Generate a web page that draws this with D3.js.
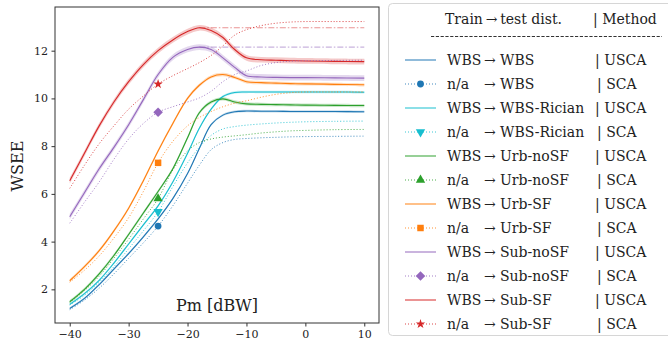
<!DOCTYPE html>
<html>
<head>
<meta charset="utf-8">
<script src="https://cdn.jsdelivr.net/npm/d3@7"></script>
<style>
  body { margin: 0; background: #fff; }
  text { font-family: "DejaVu Serif", serif; fill: #222; }
</style>
</head>
<body>
<div id="chart"></div>
<script>
// x grid (Pm in dBW)
const pm = [-40, -37.5, -35, -32.5, -30, -27.5, -25, -22.5, -20, -18, -16, -14, -12, -10, -7.5, -5, -2.5, 0, 5, 10];

// USCA curves (solid)
const uscaWBS    = [1.2, 1.62, 2.2, 2.85, 3.5, 4.2, 4.95, 5.8, 6.85, 7.9, 8.9, 9.3, 9.44, 9.47, 9.46, 9.46, 9.45, 9.45, 9.45, 9.44];
const uscaRician = [1.37, 1.82, 2.38, 3.1, 3.9, 4.7, 5.5, 6.5, 7.7, 8.75, 9.55, 10.08, 10.25, 10.27, 10.27, 10.27, 10.27, 10.27, 10.27, 10.26];
const uscaUrbNo  = [1.48, 2.0, 2.65, 3.42, 4.3, 5.2, 6.1, 7.05, 8.35, 9.4, 9.85, 9.98, 9.85, 9.77, 9.75, 9.74, 9.73, 9.72, 9.71, 9.7];
const uscaUrbSF  = [2.36, 2.95, 3.62, 4.45, 5.4, 6.55, 7.8, 8.95, 10.0, 10.55, 10.9, 11.0, 10.88, 10.7, 10.66, 10.64, 10.62, 10.61, 10.59, 10.57];
const uscaSubNo  = [5.04, 6.05, 7.05, 7.95, 8.9, 9.95, 11.0, 11.72, 12.05, 12.15, 12.05, 11.7, 11.3, 10.95, 10.9, 10.88, 10.87, 10.87, 10.86, 10.85];
const uscaSubSF  = [6.55, 7.7, 8.85, 9.85, 10.7, 11.42, 12.0, 12.45, 12.8, 12.96, 12.85, 12.55, 12.05, 11.7, 11.62, 11.6, 11.58, 11.57, 11.55, 11.54];

// SCA curves (dotted)
const scaWBS    = [1.15, 1.55, 2.05, 2.65, 3.3, 3.95, 4.65, 5.5, 6.45, 7.2, 7.85, 8.15, 8.28, 8.32, 8.35, 8.37, 8.39, 8.4, 8.41, 8.42];
const scaRician = [1.35, 1.75, 2.3, 2.95, 3.7, 4.45, 5.25, 6.3, 7.3, 7.95, 8.45, 8.72, 8.82, 8.88, 8.93, 8.97, 9.0, 9.02, 9.04, 9.05];
const scaUrbNo  = [1.45, 1.95, 2.55, 3.3, 4.1, 4.95, 5.8, 7.0, 7.8, 8.15, 8.3, 8.38, 8.43, 8.48, 8.55, 8.6, 8.64, 8.66, 8.69, 8.7];
const scaUrbSF  = [2.3, 2.8, 3.4, 4.15, 5.0, 6.1, 7.3, 8.2, 8.85, 9.2, 9.45, 9.65, 9.8, 9.9, 10.05, 10.17, 10.24, 10.27, 10.27, 10.27];
const scaSubNo  = [4.77, 5.65, 6.5, 7.45, 8.3, 8.95, 9.42, 9.65, 9.85, 10.02, 10.3, 10.7, 11.0, 11.15, 11.38, 11.5, 11.56, 11.58, 11.59, 11.6];
const scaSubSF  = [6.23, 7.2, 8.1, 8.85, 9.55, 10.1, 10.6, 10.95, 11.25, 11.5, 11.8, 12.2, 12.65, 12.88, 13.05, 13.15, 13.2, 13.22, 13.22, 13.22];

// spread of the shaded band round each USCA curve
const uscaSpread = [0.05, 0.05, 0.07, 0.07, 0.12, 0.12];
// SCA marker position
const markerPm = -25;

const testDists = ["WBS", "WBS-Rician", "Urb-noSF", "Urb-SF", "Sub-noSF", "Sub-SF"];
const colors = ["#1f77b4", "#17becf", "#2ca02c", "#ff7f0e", "#9467bd", "#d62728"];
const markers = ["circle", "tridown", "triup", "square", "diamond", "star"];
// dash-dot line at the peak, only for these
const showPeak = [false, false, false, false, true, true];

const usca = [uscaWBS, uscaRician, uscaUrbNo, uscaUrbSF, uscaSubNo, uscaSubSF];
const sca = [scaWBS, scaRician, scaUrbNo, scaUrbSF, scaSubNo, scaSubSF];

const xTicks = [-40, -30, -20, -10, 0, 10];
const yTicks = [2, 4, 6, 8, 10, 12];

const W = 668, H = 339;
const plot = { left: 55, right: 379, top: 7, bottom: 323 };

const svg = d3.select("#chart").append("svg")
  .attr("width", W)
  .attr("height", H);

const x = d3.scaleLinear().domain([-42.5, 12.5]).range([plot.left, plot.right]);
const y = d3.scaleLinear().domain([0.59, 13.83]).range([plot.bottom, plot.top]);

const line = d3.line()
  .x((d, i) => x(pm[i]))
  .y(d => y(d))
  .curve(d3.curveCatmullRom.alpha(0.5));

// marker drawn at (cx, cy)
function addMarker(sel, type, color, cx, cy) {
  let d, rot = 0;
  if (type === "circle") d = d3.symbol(d3.symbolCircle, 36)();
  else if (type === "triup") d = d3.symbol(d3.symbolTriangle, 38)();
  else if (type === "tridown") { d = d3.symbol(d3.symbolTriangle, 38)(); rot = 180; }
  else if (type === "square") d = d3.symbol(d3.symbolSquare, 42)();
  else if (type === "diamond") { d = d3.symbol(d3.symbolSquare, 46)(); rot = 45; }
  else d = d3.symbol(d3.symbolStar, 28)();
  sel.append("path")
    .attr("d", d)
    .attr("transform", `translate(${cx},${cy}) rotate(${rot})`)
    .attr("fill", color);
}

const g = svg.append("g");

// bands + peak lines
usca.forEach((vals, k) => {
  const band = d3.area()
    .x((d, i) => x(pm[i]))
    .y0(d => y(d - uscaSpread[k]))
    .y1(d => y(d + uscaSpread[k]))
    .curve(d3.curveCatmullRom.alpha(0.5));
  g.append("path")
    .attr("d", band(vals))
    .attr("fill", colors[k])
    .attr("opacity", 0.25);

  if (showPeak[k]) {
    const iMax = d3.maxIndex(vals);
    g.append("line")
      .attr("x1", x(pm[iMax])).attr("x2", x(pm[pm.length - 1]))
      .attr("y1", y(vals[iMax])).attr("y2", y(vals[iMax]))
      .attr("stroke", colors[k])
      .attr("stroke-opacity", 0.5)
      .attr("stroke-width", 1.2)
      .attr("stroke-dasharray", "6,2,1.5,2");
  }
});

usca.forEach((vals, k) => {
  g.append("path")
    .attr("d", line(vals))
    .attr("fill", "none")
    .attr("stroke", colors[k])
    .attr("stroke-width", 1.1);
});

// SCA dotted lines + single marker
sca.forEach((vals, k) => {
  g.append("path")
    .attr("d", line(vals))
    .attr("fill", "none")
    .attr("stroke", colors[k])
    .attr("stroke-width", 1)
    .attr("stroke-opacity", 0.85)
    .attr("stroke-dasharray", "1,2");

  const i = pm.indexOf(markerPm);
  addMarker(g, markers[k], colors[k], x(pm[i]), y(vals[i]));
});

// axes
const xAxis = svg.append("g")
  .attr("transform", `translate(0,${plot.bottom})`)
  .call(d3.axisBottom(x).tickValues(xTicks).tickSize(3.5).tickPadding(3.5));
const yAxis = svg.append("g")
  .attr("transform", `translate(${plot.left},0)`)
  .call(d3.axisLeft(y).tickValues(yTicks).tickSize(3.5).tickPadding(3.5));

[xAxis, yAxis].forEach(a => {
  a.select(".domain").remove();
  a.selectAll(".tick line").attr("stroke", "#333");
  a.selectAll(".tick text")
    .style("font-family", "DejaVu Serif")
    .style("font-size", "11px")
    .attr("fill", "#222");
});

svg.append("rect")
  .attr("x", plot.left).attr("y", plot.top)
  .attr("width", plot.right - plot.left)
  .attr("height", plot.bottom - plot.top)
  .attr("fill", "none")
  .attr("stroke", "#333")
  .attr("stroke-width", 1);

svg.append("text")
  .attr("x", 217).attr("y", 311)
  .attr("text-anchor", "middle")
  .style("font-size", "16px")
  .text("Pm [dBW]");

svg.append("text")
  .attr("transform", "translate(23,166) rotate(-90)")
  .attr("text-anchor", "middle")
  .style("font-size", "16px")
  .text("WSEE");

// legend
const lg = svg.append("g");
lg.append("rect")
  .attr("x", 388.5).attr("y", 3.5)
  .attr("width", 300).attr("height", 332)
  .attr("rx", 4)
  .attr("fill", "#fff")
  .attr("fill-opacity", 0.8)
  .attr("stroke", "#d6d6d6");

lg.append("text").attr("x", 445).attr("y", 24).style("font-size", "14px").text("Train\u2009\u2192\u2009test dist.");
lg.append("text").attr("x", 593).attr("y", 24).style("font-size", "14px").text("| Method");
lg.append("line")
  .attr("x1", 431).attr("x2", 662)
  .attr("y1", 36.5).attr("y2", 36.5)
  .attr("stroke", "#333")
  .attr("stroke-width", 1)
  .attr("stroke-dasharray", "3.2,1.6");

const rows = [];
testDists.forEach((t, k) => {
  rows.push({ k, train: "WBS", test: t, method: "USCA", dotted: false });
  rows.push({ k, train: "n/a", test: t, method: "SCA", dotted: true });
});

rows.forEach((r, i) => {
  const cy = 60 + i * 24;
  const row = lg.append("g");
  row.append("line")
    .attr("x1", 405).attr("x2", 436)
    .attr("y1", cy).attr("y2", cy)
    .attr("stroke", colors[r.k])
    .attr("stroke-width", 1.1)
    .attr("stroke-opacity", r.dotted ? 0.85 : 0.9)
    .attr("stroke-dasharray", r.dotted ? "1,2" : null);
  if (r.dotted) addMarker(row, markers[r.k], colors[r.k], 420.5, cy);
  row.append("text").attr("x", 447).attr("y", cy + 5).style("font-size", "14px").text(r.train);
  row.append("text").attr("x", 484).attr("y", cy + 5).style("font-size", "14px").text("\u2192");
  row.append("text").attr("x", 500).attr("y", cy + 5).style("font-size", "14px").text(r.test);
  row.append("text").attr("x", r.dotted ? 597 : 595).attr("y", cy + 5).style("font-size", "14px").text(r.method === "USCA" ? "| USCA" : "| SCA");
});
</script>
</body>
</html>
